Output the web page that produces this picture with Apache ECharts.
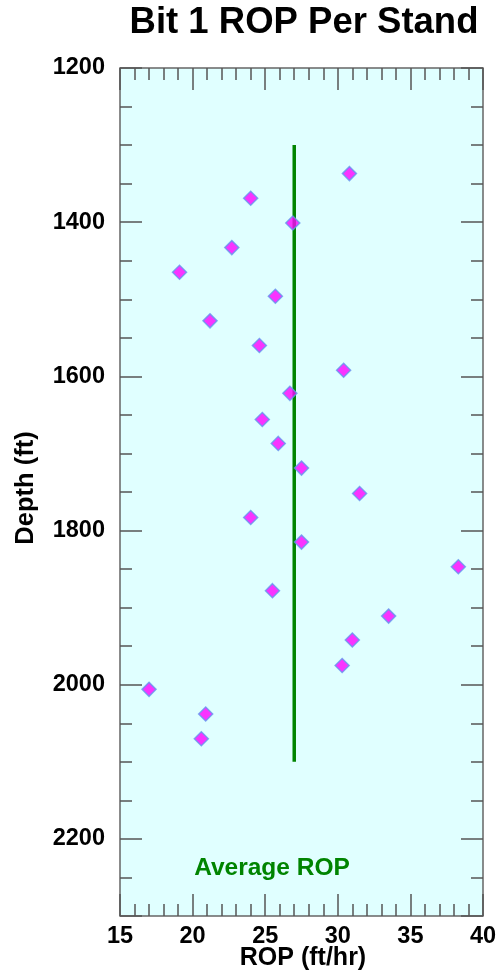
<!DOCTYPE html>
<html>
<head>
<meta charset="utf-8">
<title>Bit 1 ROP Per Stand</title>
<script src="https://cdn.jsdelivr.net/npm/echarts@6/dist/echarts.min.js"></script>
<style>
  html, body { margin: 0; padding: 0; background: #ffffff; }
  #chart { width: 502px; height: 975px; }
</style>
</head>
<body>
<div id="chart"></div>
<script>
// ROP per stand
const depthValues = [1337, 1369, 1401, 1433, 1465, 1496, 1528, 1560, 1592, 1622, 1656, 1687,
  1719, 1752, 1783, 1815, 1847, 1878, 1911, 1942, 1975, 2006, 2038, 2070];
const ropValues = [30.8, 24.0, 26.9, 22.7, 19.1, 25.7, 21.2, 24.6, 30.4, 26.7, 24.8, 25.9,
  27.5, 31.5, 24.0, 27.5, 38.3, 25.5, 33.5, 31.0, 30.3, 17.0, 20.9, 20.6];

const avgRop = 27;
const avgDepthRange = [1300, 2100];

const ropRange = [15, 40];
const depthRange = [1200, 2300];

const fontFamily = "'Liberation Sans', Arial, sans-serif";
const tickColor = "#555555";
const green = "#008400";

const chart = echarts.init(document.getElementById("chart"));

function xAxisDef(position, showLabel) {
  return {
    type: "value",
    position: position,
    min: ropRange[0],
    max: ropRange[1],
    interval: 5,
    axisLine: { show: false },
    axisTick: { show: true, inside: true, length: 22, lineStyle: { color: tickColor, width: 1.5 } },
    minorTick: { show: true, splitNumber: 5, length: 12, lineStyle: { color: tickColor, width: 1.5 } },
    splitLine: { show: false },
    axisLabel: {
      show: showLabel,
      margin: 9,
      color: "#000000",
      fontFamily: fontFamily,
      fontWeight: "bold",
      fontSize: 23.5,
    },
  };
}

function yAxisDef(position, interval, tickLen, showLabel) {
  return {
    type: "value",
    position: position,
    inverse: true,
    min: depthRange[0],
    max: depthRange[1],
    interval: interval,
    axisLine: { show: false },
    axisTick: { show: true, inside: true, length: tickLen, lineStyle: { color: tickColor, width: 1.5 } },
    splitLine: { show: false },
    axisLabel: {
      show: showLabel,
      margin: 15,
      color: "#000000",
      fontFamily: fontFamily,
      fontWeight: "bold",
      fontSize: 23.5,
      formatter: (v) => (v === depthRange[1] ? "" : String(v)),
    },
  };
}

chart.setOption({
  animation: false,
  backgroundColor: "#ffffff",
  grid: {
    left: 120,
    right: 19,
    top: 68,
    bottom: 59,
    show: true,
    backgroundColor: "#e0ffff",
    borderColor: "#666666",
    borderWidth: 1.5,
  },
  xAxis: [xAxisDef("bottom", true), xAxisDef("top", false)],
  yAxis: [
    yAxisDef("left", 200, 22, true),
    yAxisDef("left", 50, 12, false),
    yAxisDef("right", 200, 22, false),
    yAxisDef("right", 50, 12, false),
  ],
  graphic: [
    {
      type: "text",
      x: 304,
      y: 23,
      style: {
        text: "Bit 1 ROP Per Stand",
        align: "center",
        verticalAlign: "middle",
        fill: "#000000",
        font: "bold 36.5px " + fontFamily,
      },
    },
    {
      type: "text",
      x: 26,
      y: 488,
      rotation: Math.PI / 2,
      style: {
        text: "Depth (ft)",
        align: "center",
        verticalAlign: "middle",
        fill: "#000000",
        font: "bold 25.5px " + fontFamily,
      },
    },
    {
      type: "text",
      x: 303,
      y: 958,
      style: {
        text: "ROP (ft/hr)",
        align: "center",
        verticalAlign: "middle",
        fill: "#000000",
        font: "bold 25px " + fontFamily,
      },
    },
    {
      type: "text",
      x: 272,
      y: 868,
      style: {
        text: "Average ROP",
        align: "center",
        verticalAlign: "middle",
        fill: green,
        font: "bold 24.5px " + fontFamily,
      },
    },
  ],
  series: [
    {
      name: "Average ROP",
      type: "line",
      xAxisIndex: 0,
      yAxisIndex: 0,
      data: avgDepthRange.map((d) => [avgRop, d]),
      symbol: "none",
      lineStyle: { color: green, width: 3.5 },
      z: 2,
    },
    {
      name: "ROP",
      type: "scatter",
      xAxisIndex: 0,
      yAxisIndex: 0,
      data: depthValues.map((d, i) => [ropValues[i], d]),
      symbol: "diamond",
      symbolSize: 14,
      itemStyle: { color: "#ff00ff", borderColor: "#6495ed", borderWidth: 1.5 },
      z: 3,
    },
  ],
});
</script>
</body>
</html>
